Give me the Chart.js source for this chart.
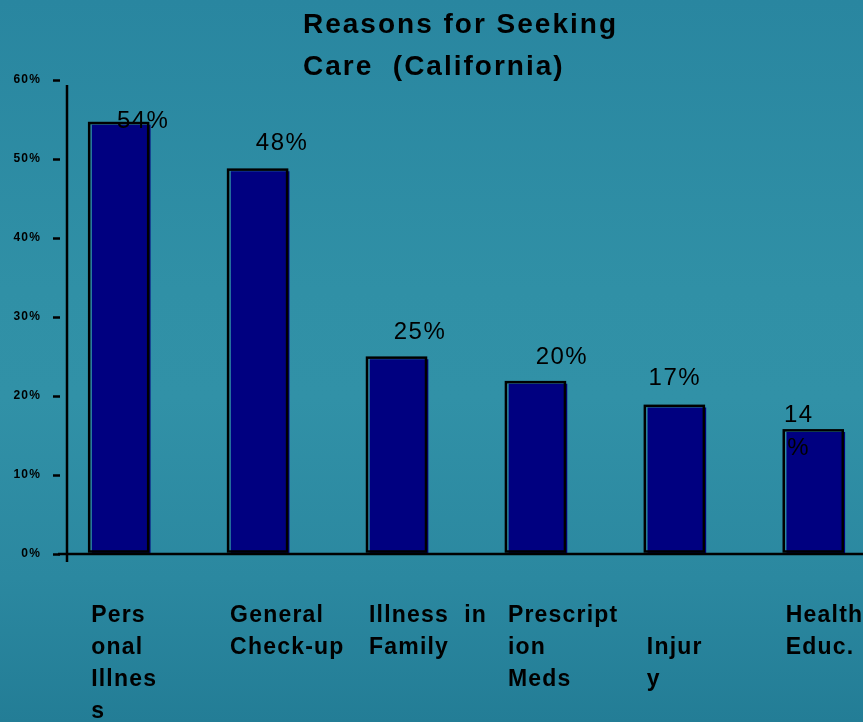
<!DOCTYPE html>
<html><head><meta charset="utf-8">
<script src="https://cdn.jsdelivr.net/npm/chart.js@4.4.1/dist/chart.umd.min.js"></script>
<style>
html,body{margin:0;padding:0;}
body{width:863px;height:722px;overflow:hidden;background:linear-gradient(180deg,#2986a0 0%,#3090a6 40%,#3191a7 55%,#2b88a0 80%,#237d96 100%);}
canvas{display:block;}
</style></head><body>
<canvas id="c" width="863" height="722"></canvas>
<script>
// ---- data ----
const titleLines = ['Reasons for Seeking', 'Care  (California)'];
const categories = [
  ['Pers', 'onal', 'Illnes', 's'],
  ['General', 'Check-up'],
  ['Illness  in', 'Family'],
  ['Prescript', 'ion', 'Meds'],
  ['', 'Injur', 'y'],
  ['Health', 'Educ.']
];
const values = [54.3, 48.4, 24.6, 21.5, 18.5, 15.4];
const valueLabels = ['54%', '48%', '25%', '20%', '17%', '14\n%'];
const yTicks = [0, 10, 20, 30, 40, 50, 60];

// ---- annotation layout (style, not data) ----
const labelNudge = [[22, -4], [22, -28], [21, -27], [24, -27], [-2, -29], [-17, -17]];
const FONT = 'Liberation Sans, Arial, Helvetica, sans-serif';

Chart.defaults.font.family = FONT;
Chart.defaults.color = '#000';

const spacingPlugin = {
  id: 'spacing',
  beforeDraw(chart) { try { chart.ctx.letterSpacing = '1.2px'; } catch (e) {} }
};

const decoPlugin = {
  id: 'deco',
  afterDatasetsDraw(chart) {
    const ctx = chart.ctx;
    const meta = chart.getDatasetMeta(0);
    const ys = chart.scales.y;
    ctx.save();
    // offset black outlines of bars
    ctx.strokeStyle = '#000';
    ctx.lineWidth = 2.5;
    meta.data.forEach(bar => {
      const p = bar.getProps(['x', 'y', 'base', 'width'], true);
      const l = p.x - p.width / 2 - 3, r = p.x + p.width / 2 - 2;
      ctx.strokeRect(l, p.y - 2, r - l, p.base - 2 - (p.y - 2));
    });
    // axis lines
    const x0 = chart.chartArea.left, yb = ys.getPixelForValue(0);
    ctx.lineWidth = 2.5;
    ctx.beginPath();
    ctx.moveTo(x0, ys.getPixelForValue(60) + 5);
    ctx.lineTo(x0, yb + 8);
    ctx.moveTo(x0 - 9, yb);
    ctx.lineTo(chart.width, yb);
    ctx.stroke();
    // value labels
    try { ctx.letterSpacing = '1.5px'; } catch (e) {}
    ctx.fillStyle = '#000';
    ctx.font = '24px ' + FONT;
    ctx.textAlign = 'center';
    ctx.textBaseline = 'middle';
    meta.data.forEach((bar, i) => {
      const lines = valueLabels[i].split('\n');
      lines.forEach((t, j) => {
        ctx.fillText(t, bar.x + labelNudge[i][0], bar.y + labelNudge[i][1] + j * 33);
      });
    });
    // title
    try { ctx.letterSpacing = '2px'; } catch (e) {}
    ctx.font = 'bold 28px ' + FONT;
    ctx.textAlign = 'left';
    titleLines.forEach((t, j) => ctx.fillText(t, 303, 25 + j * 42));
    ctx.restore();
  }
};

new Chart(document.getElementById('c'), {
  type: 'bar',
  data: {
    datasets: [{
      data: values.map((v, i) => ({ x: i, y: v })),
      backgroundColor: '#000080',
      borderWidth: 0,
      barThickness: 58
    }]
  },
  options: {
    responsive: false,
    animation: false,
    events: [],
    layout: { padding: { top: 80, left: 0, right: 0, bottom: 0 } },
    plugins: { legend: { display: false }, tooltip: { enabled: false }, title: { display: false } },
    scales: {
      x: {
        type: 'linear',
        offset: false,
        min: -0.39,
        max: 5.34,
        grid: { display: false, drawTicks: false, offset: false },
        border: { display: false },
        ticks: {
          stepSize: 1,
          includeBounds: false,
          autoSkip: false,
          maxRotation: 0,
          minRotation: 0,
          align: 'start',
          labelOffset: -30,
          padding: 46,
          font: { size: 23, weight: 'bold', lineHeight: '32px' },
          callback: v => categories[v] || ''
        },
        afterFit: s => { s.height = 168; s.paddingLeft = 0; s.paddingRight = 0; }
      },
      y: {
        min: 0,
        max: 60,
        afterBuildTicks: s => { s.ticks = yTicks.map(v => ({ value: v })); },
        grid: {
          drawOnChartArea: false,
          drawTicks: true,
          tickLength: 14,
          tickColor: '#000',
          tickWidth: 2.5,
          tickBorderDash: [7, 40]
        },
        border: { display: false },
        ticks: {
          padding: 12,
          font: { size: 12, weight: 'bold' },
          callback: v => v + '%'
        },
        afterFit: s => { s.width = 67; }
      }
    }
  },
  plugins: [spacingPlugin, decoPlugin]
});
</script>
</body></html>
